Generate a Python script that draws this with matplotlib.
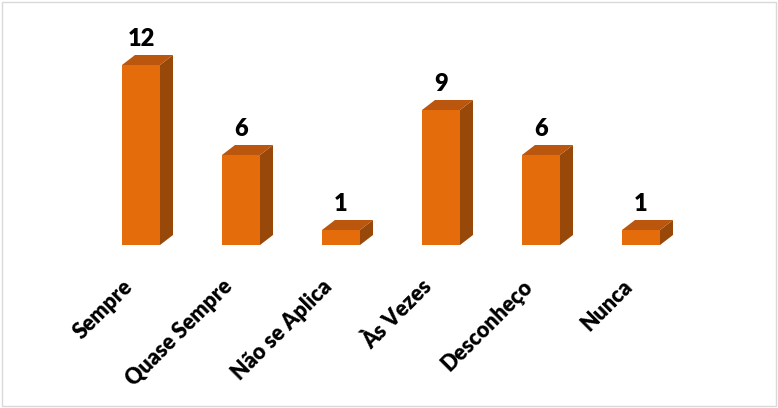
import matplotlib.pyplot as plt
from matplotlib.patches import Polygon, Rectangle

categories = ['Sempre', 'Quase Sempre', 'Não se Aplica', 'Às Vezes', 'Desconheço', 'Nunca']
values = [12, 6, 1, 9, 6, 1]

front_color = '#E46C0A'
side_color = '#984808'
top_color = '#BA560E'

fig = plt.figure(figsize=(7.78, 4.08), dpi=100)
fig.patches.append(Rectangle((0.003, 0.004), 0.994, 0.992, transform=fig.transFigure,
                             fill=False, edgecolor='#d9d9d9', linewidth=1))
ax = fig.add_axes([81 / 778, 163 / 408, 620 / 778, 195 / 408])
ax.set_xlim(-0.6, 5.6)
ax.set_ylim(0, 13)
ax.axis('off')

w = 0.38      # front face width
dx = 0.13     # depth offset in x
dy = 0.667    # depth offset in y

xs = list(range(len(values)))
ax.bar(xs, values, width=w, color=front_color, zorder=3)

for x, v in zip(xs, values):
    r = x + w / 2
    l = x - w / 2
    side = Polygon([(r, 0), (r + dx, dy), (r + dx, v + dy), (r, v)],
                   closed=True, facecolor=side_color, edgecolor='none', zorder=2)
    top = Polygon([(l, v), (l + dx, v + dy), (r + dx, v + dy), (r, v)],
                  closed=True, facecolor=top_color, edgecolor='none', zorder=2)
    ax.add_patch(side)
    ax.add_patch(top)
    ax.text(x, v + dy + 0.3, str(v), ha='center', va='bottom',
            fontsize=17, fontweight='heavy', family='Lato')
    ax.annotate(categories[x], xy=(x, 0), xytext=(-12, -38), textcoords='offset pixels',
                rotation=45, rotation_mode='anchor', ha='right', va='center',
                fontsize=15.5, fontweight='heavy', family='Lato', annotation_clip=False)

fig.savefig('out.png', dpi=100)
